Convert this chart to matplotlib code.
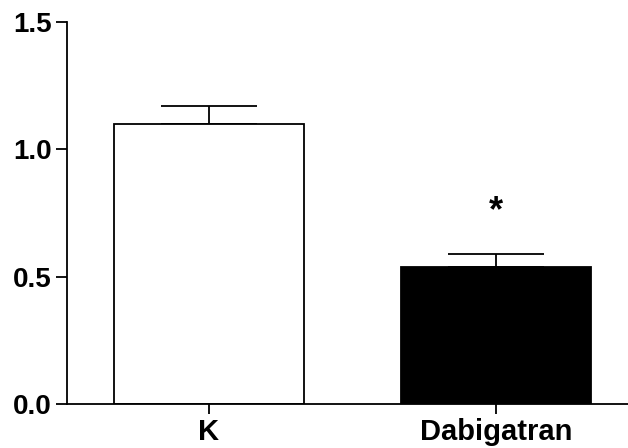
import matplotlib
matplotlib.use("Agg")
import matplotlib.pyplot as plt
import numpy as np

categories = ["K", "Dabigatran"]
values = [1.10, 0.537]
errors = [0.072, 0.052]
colors = ["white", "black"]
yticks = [0.0, 0.5, 1.0, 1.5]
ytick_labels = ["0.0", "0.5", "1.0", "1.5"]

plt.rcParams['font.family'] = ['Liberation Sans', 'DejaVu Sans']

fig = plt.figure(figsize=(6.28, 4.48), dpi=100)
ax = fig.add_axes([0.1067, 0.0982, 0.8933, 0.8527])

x = np.arange(len(categories))
ax.bar(x, values, width=0.662, color=colors, edgecolor="black", linewidth=1.3, zorder=2)
ax.errorbar(x, values, yerr=[np.zeros(len(errors)), errors], fmt="none",
            ecolor="black", elinewidth=1.3, capsize=34.5, capthick=1.3, zorder=1)
ax.text(1, 0.755, "*", ha="center", va="center", fontsize=26, fontweight="bold")

ax.set_xlim(-0.495, 1.46)
ax.set_ylim(0, 1.5)
ax.set_xticks(x)
ax.set_xticklabels(categories, fontsize=21, fontweight="bold")
ax.set_yticks(yticks)
ax.set_yticklabels(ytick_labels, fontsize=20, fontweight="bold")
ax.spines["top"].set_visible(False)
ax.spines["right"].set_visible(False)
for s in ["left", "bottom"]:
    ax.spines[s].set_linewidth(1.3)
ax.tick_params(axis="y", length=8, width=1.3, pad=3)
ax.tick_params(axis="x", length=7, width=1.3, pad=3)

fig.savefig("out.png", dpi=100)
